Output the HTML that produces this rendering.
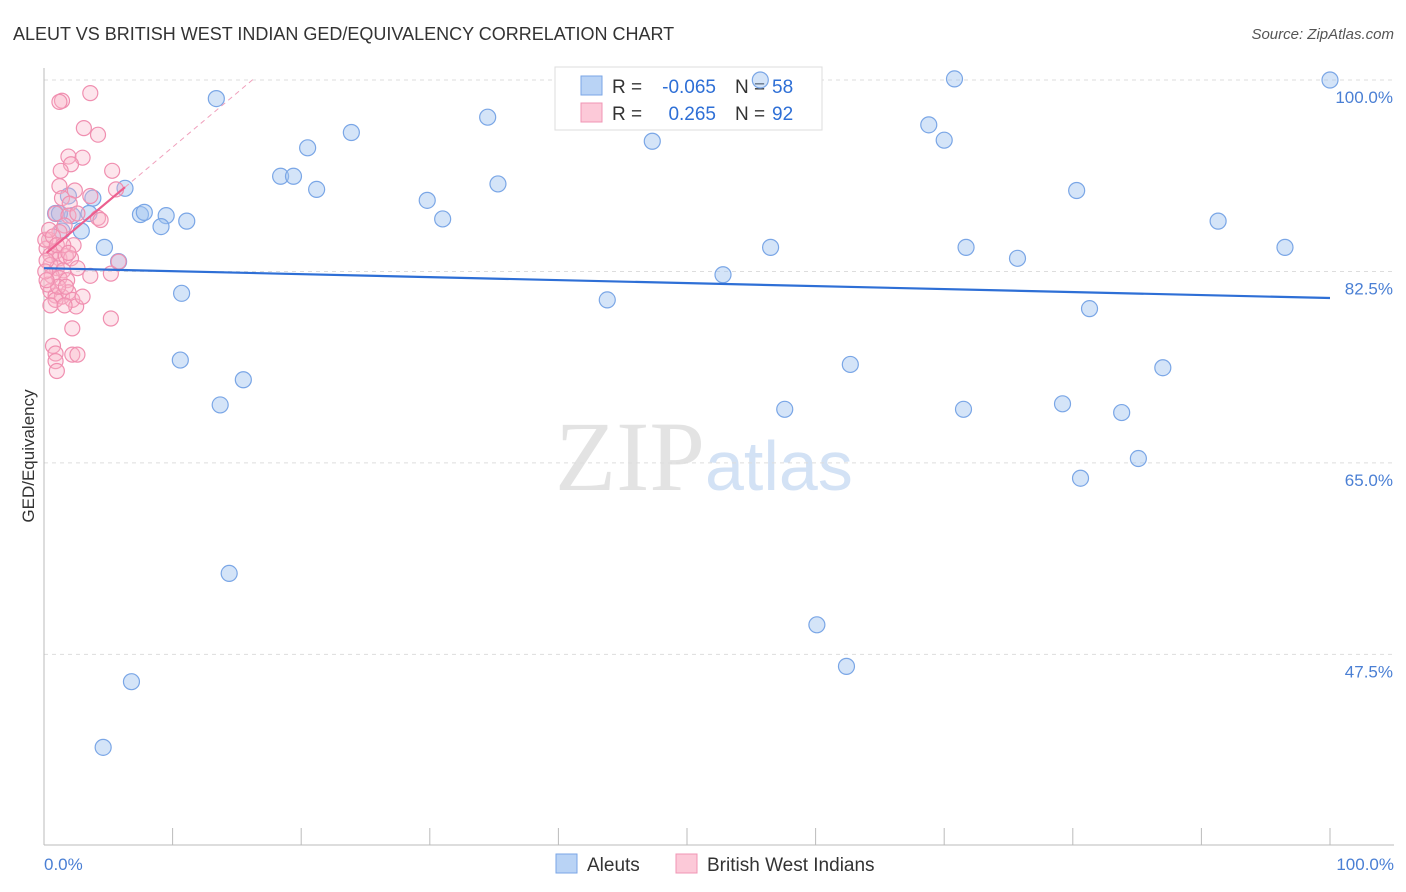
<!DOCTYPE html>
<html><head><meta charset="utf-8"><style>
body{margin:0;background:#fff;font-family:"Liberation Sans",sans-serif;}
svg{display:block}
</style></head><body>
<svg id="chart" width="1406" height="892" xmlns="http://www.w3.org/2000/svg">
<text x="13" y="40" font-size="18" fill="#333">ALEUT VS BRITISH WEST INDIAN GED/EQUIVALENCY CORRELATION CHART</text>
<text x="1394" y="39" font-size="15" fill="#555" text-anchor="end" font-style="italic">Source: ZipAtlas.com</text>
<text x="555" y="490" font-size="100" font-family="Liberation Serif" fill="#ddd" opacity="0.8">ZIP<tspan font-family="Liberation Sans" fill="#c9dbf3" font-size="70">atlas</tspan></text>
<g id="grid"></g>
<g id="axes"></g>
<g>
<rect x="555" y="67" width="267" height="63" fill="#fff" stroke="#ddd"/>
<rect x="581" y="76" width="21" height="19" fill="#b9d3f5" stroke="#7aa6e6"/>
<rect x="581" y="103" width="21" height="19" fill="#fcc9d8" stroke="#f095b4"/>
<text x="612" y="93" font-size="19" fill="#333">R =</text>
<text x="716" y="93" font-size="19" fill="#2e6fd6" text-anchor="end">-0.065</text>
<text x="735" y="93" font-size="19" fill="#333">N =</text>
<text x="772" y="93" font-size="19" fill="#2e6fd6">58</text>
<text x="612" y="120" font-size="19" fill="#333">R =</text>
<text x="716" y="120" font-size="19" fill="#2e6fd6" text-anchor="end">0.265</text>
<text x="735" y="120" font-size="19" fill="#333">N =</text>
<text x="772" y="120" font-size="19" fill="#2e6fd6">92</text>
</g>
<g id="marks"></g>
<text transform="translate(34,456) rotate(-90)" font-size="17" fill="#333" text-anchor="middle">GED/Equivalency</text>
<text x="44" y="870" font-size="17" fill="#4a7fd4">0.0%</text>
<text x="1394" y="870" font-size="17" fill="#4a7fd4" text-anchor="end">100.0%</text>
<g>
<rect x="556" y="854" width="21" height="19" fill="#b9d3f5" stroke="#7aa6e6"/>
<text x="587" y="871" font-size="19" fill="#333">Aleuts</text>
<rect x="676" y="854" width="21" height="19" fill="#fcc9d8" stroke="#f095b4"/>
<text x="707" y="871" font-size="19" fill="#333">British West Indians</text>
</g>
</svg>
<script>
const yTicks=[100,82.5,65,47.5];
const yTickLabels=["100.0%","82.5%","65.0%","47.5%"];
const blueX=[13.4,55.7,70.8,100,34.5,23.9,68.8,47.3,70,20.5,18.4,19.4,21.2,35.3,80.3,6.3,29.8,3.8,1.9,0.9,2.2,3.5,7.5,7.8,9.5,9.1,11.1,31,91.3,2.9,4.7,56.5,71.7,96.5,5.8,75.7,52.8,10.7,43.8,81.3,10.6,62.7,87,15.5,13.7,57.6,71.5,79.2,83.8,85.1,80.6,14.4,60.1,62.4,6.8,4.6,1.2,1.4];
const blueY=[98.3,100,100.1,100,96.6,95.2,95.9,94.4,94.5,93.8,91.2,91.2,90,90.5,89.9,90.1,89,89.2,89.4,87.8,87.6,87.8,87.7,87.9,87.6,86.6,87.1,87.3,87.1,86.2,84.7,84.7,84.7,84.7,83.4,83.7,82.2,80.5,79.9,79.1,74.4,74,73.7,72.6,70.3,69.9,69.9,70.4,69.6,65.4,63.6,54.9,50.2,46.4,45,39,87.8,86.2];
const pinkX=[1.4,1.2,3.6,3.1,4.2,1.9,3,2.1,1.3,5.3,1.2,2.4,3.6,5.6,1.4,2,0.9,1.9,2.6,4.2,4.4,1.6,1.2,2.3,0.4,0.2,0.5,0.9,1.2,1.7,2.1,0.5,1,1.5,2.6,0.2,0.6,1.2,1.8,3.6,5.2,5.8,0.5,0.9,1.4,1.9,2.2,2.5,3.0,0.9,0.5,1.6,5.2,2.2,0.7,0.9,0.9,1,2.2,2.6,0.3,1.1,1.7,0.1,0.4,0.7,1,1.5,1.9,0.1,0.2];
const pinkY=[98.1,98,98.8,95.6,95,93,92.9,92.3,91.7,91.7,90.3,89.9,89.4,90,89.2,88.7,87.8,87.6,87.8,87.4,87.2,86.7,86.1,84.9,85.4,84.6,84,84.3,83.7,83.9,83.7,83.1,82.8,82.6,82.8,83.5,82.1,81.9,81.7,82.1,82.3,83.4,80.7,80.3,80.2,80.6,79.9,79.3,80.2,79.9,79.4,79.4,78.2,77.3,75.7,75,74.3,73.4,74.9,74.9,81.3,81.1,81.1,85.4,86.3,85.7,84.9,84.9,84.2,82.5,81.7];
const X0=44,X1=1330,Y100=80,PX=10.94;
const xs=v=>X0+(X1-X0)*v/100, ys=v=>Y100+(100-v)*PX;
const NS="http://www.w3.org/2000/svg";
function mk(tag,attrs,parent){const e=document.createElementNS(NS,tag);for(const k in attrs)e.setAttribute(k,attrs[k]);parent.appendChild(e);return e;}
const grid=document.getElementById('grid'),axes=document.getElementById('axes'),marks=document.getElementById('marks');
yTicks.forEach((t,i)=>{
 const g=mk('line',{x1:44,x2:1394,y1:ys(t),y2:ys(t),stroke:'#ddd','stroke-dasharray':'4,4'},grid);
 
 
 const tx=mk('text',{x:1393,y:ys(t)+23,'font-size':17,fill:'#4a7fd4','text-anchor':'end'},axes);
 tx.textContent=yTickLabels[i];
 
 
});
const ax=mk('line',{x1:44,x2:44,y1:68,y2:845,stroke:'#bbb'},axes);


const bx=mk('line',{x1:44,x2:1394,y1:845,y2:845,stroke:'#bbb'},axes);


for(let i=0;i<=10;i++){const t=mk('line',{x1:xs(i*10),x2:xs(i*10),y1:828,y2:845,stroke:'#bbb'},axes);
 
 }
blueX.forEach((v,i)=>{const c=mk('circle',{cx:xs(v),cy:ys(blueY[i]),r:8,fill:'rgba(160,195,240,0.45)',stroke:'#7aa6e6','stroke-width':1.2},marks);
 
 });
pinkX.forEach((v,i)=>{const c=mk('circle',{cx:xs(v),cy:ys(pinkY[i]),r:7.5,fill:'rgba(250,180,200,0.35)',stroke:'#f08fb0','stroke-width':1.2},marks);
 
 });
const bl=mk('line',{x1:xs(0),y1:ys(82.8),x2:xs(100),y2:ys(80.07),stroke:'#2e6fd6','stroke-width':2.2},marks);


const pd=mk('line',{x1:xs(6.3),y1:ys(90.2),x2:xs(16.4),y2:ys(100.2),stroke:'#f0a0bc','stroke-width':1,'stroke-dasharray':'5,4'},marks);


const pl=mk('line',{x1:xs(0.2),y1:ys(84.2),x2:xs(6.3),y2:ys(90.2),stroke:'#ec5f8f','stroke-width':2.2},marks);


</script>
</body></html>
